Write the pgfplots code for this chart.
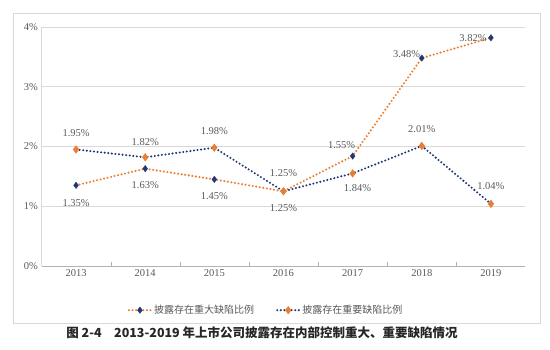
\documentclass[border=0pt]{standalone}
\usepackage{fontspec}
\setmainfont{Liberation Serif}
\newfontfamily\cjk{Noto Sans CJK SC}
\usepackage{pgfplots}
\pgfplotsset{compat=1.18}
\definecolor{ora}{RGB}{237,125,49}
\definecolor{nav}{RGB}{32,56,120}
\definecolor{txt}{RGB}{89,89,89}
\definecolor{grd}{RGB}{217,217,217}
\begin{document}
\begin{tikzpicture}
\useasboundingbox (0pt,0pt) rectangle (550pt,349pt);
\draw[grd, line width=0.8pt] (13pt,26pt) rectangle (540pt,336pt);
\begin{axis}[at={(41.5pt,83pt)}, anchor=south west, scale only axis,
  width=484pt, height=239pt,
  xmin=2012.5, xmax=2019.5, ymin=0, ymax=4,
  xtick={2013,2014,2015,2016,2017,2018,2019},
  xticklabels={2013,2014,2015,2016,2017,2018,2019},
  ytick={0,1,2,3,4}, yticklabels={0\%,1\%,2\%,3\%,4\%},
  minor xtick={2013.5,2014.5,2015.5,2016.5,2017.5,2018.5},
  axis x line*=bottom, axis y line*=left,
  axis line style={grd, line width=0.8pt, -},
  x axis line style={black!30},
  ymajorgrids, grid style={grd, line width=0.8pt},
  major tick length=0pt, minor tick length=4pt,
  minor tick style={black!30},
  ticklabel style={font=\fontsize{10.5}{12}\selectfont, text=txt},
  /pgf/number format/assume math mode=true,
  clip=false,
  legend style={at={(0.464,-0.185)}, anchor=center, draw=none, fill=none,
    legend columns=2, font=\cjk\fontsize{10}{12}\selectfont, text=txt,
    /tikz/every even column/.append style={column sep=20pt}},
  legend image code/.code={\draw[#1, mark=none] (0pt,0pt) -- (22pt,0pt);
    \draw[#1, only marks] plot coordinates {(11pt,0pt)};},
]
\addplot[ora, line width=2.3pt, dash pattern=on 0pt off 3.6pt, line cap=round,
  mark=diamond*, mark size=3.2pt, mark options={solid, fill=nav, draw=nav, line width=0.4pt}]
  coordinates {(2013,1.35) (2014,1.63) (2015,1.45) (2016,1.25) (2017,1.84) (2018,3.48) (2019,3.82)};
\addlegendentry{披露存在重大缺陷比例}
\addplot[nav, line width=2.3pt, dash pattern=on 0pt off 3.6pt, line cap=round,
  mark=diamond*, mark size=3.8pt, mark options={solid, fill=ora, draw=ora, line width=0.4pt}]
  coordinates {(2013,1.95) (2014,1.82) (2015,1.98) (2016,1.25) (2017,1.55) (2018,2.01) (2019,1.04)};
\addlegendentry{披露存在重要缺陷比例}
\tikzset{lbl/.style={font=\fontsize{10.5}{12}\selectfont, text=txt}}
\node[lbl] at (axis cs:2013,2.23) {1.95\%};
\node[lbl] at (axis cs:2013,1.05) {1.35\%};
\node[lbl] at (axis cs:2014,2.08) {1.82\%};
\node[lbl] at (axis cs:2014,1.36) {1.63\%};
\node[lbl] at (axis cs:2015,2.26) {1.98\%};
\node[lbl] at (axis cs:2015,1.17) {1.45\%};
\node[lbl] at (axis cs:2016,1.56) {1.25\%};
\node[lbl] at (axis cs:2016,0.97) {1.25\%};
\node[lbl] at (axis cs:2016.84,2.03) {1.55\%};
\node[lbl] at (axis cs:2017.07,1.31) {1.84\%};
\node[lbl] at (axis cs:2017.78,3.55) {3.48\%};
\node[lbl] at (axis cs:2018.74,3.82) {3.82\%};
\node[lbl] at (axis cs:2018,2.29) {2.01\%};
\node[lbl] at (axis cs:2019,1.34) {1.04\%};
\end{axis}
\node[font=\cjk\bfseries\fontsize{12.5}{14}\selectfont, text=black!85] at (262pt,16pt)
  {图 2-4\hspace{1em}2013-2019 年上市公司披露存在内部控制重大、重要缺陷情况};
\end{tikzpicture}
\end{document}
